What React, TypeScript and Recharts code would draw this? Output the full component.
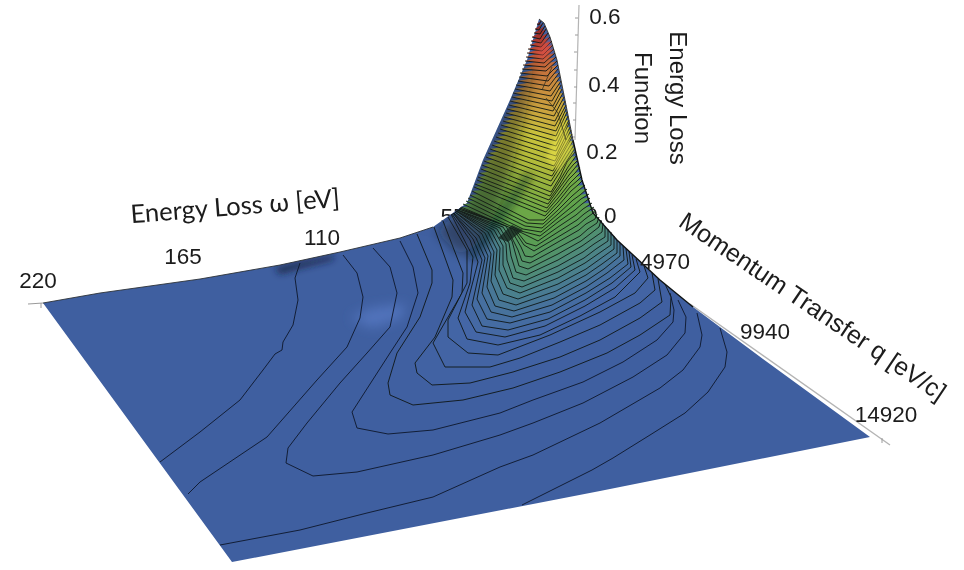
/**
 * Energy loss function surface, drawn as stacked contour regions
 * on a ScatterChart whose axes run in the projected plane of the picture.
 */
import { ScatterChart, Scatter, XAxis, YAxis } from "recharts";

type Pt = [number, number];

const WIDTH = 964;
const HEIGHT = 570;

// Axis tick labels
const ENERGY_TICKS = ["220", "165", "110"];
const ENERGY_TICK_POS: Pt[] = [[38, 280], [183, 256], [322, 237]];
const MOMENTUM_TICKS = ["4970", "9940", "14920"];
const MOMENTUM_TICK_POS: Pt[] = [[665, 261], [765, 331], [886, 414]];
const LOSS_TICKS = ["0.6", "0.4", "0.2"];
const LOSS_TICK_POS: Pt[] = [[605, 16], [604, 84], [602, 151]];
const LOSS_MINOR_TICKS: Pt[] = [[578, 18], [578, 35], [577, 52], [577, 70], [577, 87], [576, 103], [576, 120], [575, 137]];

// Outline of the surface, walked from the left corner along the back edge
const SURFACE_OUTLINE: Pt[] = [
  [43, 303], [100, 293], [200, 279], [280, 265], [340, 252], [400, 238], [433, 227], [467, 203],
  [483, 160], [510, 100], [527, 60], [539, 19], [544, 23], [550, 37], [557, 60], [565, 100],
  [573, 140], [582, 180], [593, 213], [617, 240], [660, 280], [693, 307], [763, 359], [870, 437],
  [600, 491], [232, 562],
];
const BACK_EDGE: Pt[] = [[43, 303], [100, 293], [200, 279], [280, 265], [340, 252], [400, 238], [433, 227]];
const PEAK_RIGHT_EDGE: Pt[] = [[539, 19], [544, 23], [550, 37], [557, 60], [565, 100], [573, 140]];
const FOOT_RIGHT_EDGE: Pt[] = [[573, 140], [582, 180], [593, 213], [617, 240], [660, 280], [693, 307]];

// Contours on the flat part of the floor
const FLOOR_CONTOURS: Pt[][] = [
  [[522, 505], [592, 470], [613, 458], [650, 435], [685, 413], [708, 392], [725, 367], [727, 352], [720, 328]],
  [[220, 545], [300, 530], [367, 513], [433, 497], [500, 467], [533, 455], [600, 423], [660, 388], [683, 370], [700, 347], [702, 335], [697, 313]],
  [[300, 263], [295, 278], [298, 300], [293, 325], [283, 342], [282, 350], [275, 354], [263, 370], [240, 400], [200, 432], [160, 462]],
  [[343, 255], [357, 273], [363, 297], [360, 318], [347, 347], [317, 380], [267, 437], [200, 482], [188, 494]],
  [[373, 248], [390, 267], [397, 293], [390, 327], [367, 353], [340, 383], [307, 423], [288, 448], [286, 463], [313, 476], [357, 472], [433, 455], [500, 435], [533, 423], [583, 403], [633, 377], [667, 355], [685, 333], [686, 317], [678, 300]],
  [[400, 241], [413, 267], [418, 293], [407, 327], [390, 353], [352, 412], [357, 428], [388, 434], [433, 430], [500, 413], [533, 400], [583, 382], [623, 362], [657, 340], [673, 322], [674, 310], [670, 293]],
];

// Contours of the foot of the peak, lowest first
const FOOT_CONTOURS: Pt[][] = [
  [[417, 234], [432, 270], [432, 283], [420, 317], [397, 353], [388, 383], [390, 395], [413, 405], [463, 400], [513, 388], [560, 372], [607, 353], [640, 335], [670, 315], [671, 297], [665, 284]],
  [[434, 227], [453, 280], [452, 297], [435, 337], [415, 363], [417, 373], [432, 385], [470, 383], [513, 372], [560, 357], [600, 340], [640, 318], [662, 302], [658, 279]],
  [[443, 221], [463, 273], [462, 293], [433, 343], [445, 367], [490, 367], [520, 358], [560, 342], [600, 325], [640, 303], [655, 290], [652, 273]],
  [[448, 217], [467, 250], [467, 283], [448, 320], [448, 337], [468, 353], [498, 355], [550, 335], [600, 312], [635, 293], [648, 278], [644, 266]],
  [[451, 214], [473, 257], [470, 283], [458, 318], [467, 339], [498, 345], [540, 335], [580, 316], [615, 297], [640, 272], [636, 259]],
  [[452, 214], [470, 240], [478, 262], [465, 312], [476, 332], [505, 337], [545, 326], [585, 306], [615, 288], [635, 270], [632, 255]],
  [[453, 213], [473, 239], [482, 260], [472, 305], [482, 326], [508, 330], [548, 319], [585, 300], [612, 283], [631, 267], [629, 252]],
  [[453, 213], [476, 238], [485, 258], [477, 299], [487, 319], [510, 323], [550, 312], [586, 293], [610, 278], [628, 264], [626, 249]],
  [[454, 213], [479, 236], [488, 256], [482, 293], [491, 312], [512, 317], [552, 305], [586, 287], [607, 273], [624, 260], [623, 246]],
  [[455, 212], [482, 234], [491, 254], [487, 287], [495, 306], [514, 311], [554, 298], [586, 281], [604, 269], [620, 256], [620, 243]],
  [[455, 212], [485, 233], [494, 252], [491, 281], [499, 300], [516, 305], [556, 291], [586, 275], [602, 264], [617, 253], [617, 240]],
  [[456, 211], [488, 232], [497, 250], [495, 275], [503, 294], [518, 299], [558, 284], [586, 269], [600, 259], [614, 249], [614, 236]],
  [[456, 211], [491, 231], [500, 248], [499, 270], [507, 288], [520, 293], [558, 278], [585, 263], [598, 254], [611, 245], [611, 232]],
  [[457, 211], [494, 230], [503, 246], [503, 265], [510, 283], [522, 287], [558, 272], [584, 258], [596, 249], [608, 241], [608, 229]],
  [[457, 210], [497, 229], [506, 244], [507, 260], [513, 278], [524, 281], [558, 266], [583, 252], [594, 244], [605, 237], [605, 226]],
  [[458, 210], [500, 228], [509, 243], [511, 256], [516, 272], [526, 275], [558, 260], [582, 246], [592, 239], [602, 232], [603, 223]],
  [[458, 210], [503, 227], [512, 241], [515, 252], [519, 266], [528, 269], [558, 254], [581, 241], [590, 234], [599, 227], [601, 220]],
  [[459, 209], [506, 226], [518, 250], [522, 261], [530, 263], [558, 248], [580, 236], [588, 229], [597, 223], [599, 217]],
  [[459, 209], [509, 226], [521, 247], [525, 256], [532, 257], [558, 242], [579, 230], [586, 224], [595, 219], [597, 214]],
  [[460, 208], [512, 227], [524, 245], [534, 251], [558, 237], [578, 225], [585, 219], [596, 211]],
  [[460, 208], [515, 229], [526, 243], [536, 246], [558, 232], [577, 220], [584, 214], [594, 207]],
];

// Contours of the peak itself, from the left edge over the lowest point to the right edge
const PEAK_CONTOURS: Pt[][] = [
  [[461, 207], [518, 231], [538, 241], [558, 227], [576, 215], [583, 209], [592, 203]],
  [[463, 204], [521, 231], [540, 236], [558, 222], [575, 210], [582, 204], [590, 198]],
  [[466, 201], [523, 229], [541, 232], [558, 218], [574, 205], [581, 199], [589, 194]],
  [[468, 198], [525, 226], [542, 228], [558, 214], [573, 200], [580, 195], [587, 189]],
  [[470, 195], [527, 223], [543, 224], [558, 210], [572, 196], [579, 190], [585, 185]],
  [[472, 191], [529, 220], [544, 220], [558, 206], [571, 191], [578, 185], [583, 180]],
  [[474, 187], [545, 216], [558, 202], [570, 187], [577, 181], [582, 176]],
  [[475, 184], [546, 212], [558, 198], [570, 183], [576, 177], [581, 172]],
  [[477, 180], [547, 208], [558, 194], [569, 179], [575, 173], [580, 167]],
  [[478, 177], [548, 204], [558, 190], [569, 175], [574, 169], [579, 163]],
  [[479, 173], [549, 200], [559, 186], [568, 171], [573, 165], [578, 160]],
  [[481, 169], [550, 196], [559, 182], [568, 167], [576, 156]],
  [[482, 165], [551, 192], [560, 177], [567, 162], [575, 152]],
  [[484, 161], [551, 186], [575, 148]],
  [[486, 157], [551, 181], [574, 145]],
  [[488, 153], [552, 176], [573, 141]],
  [[490, 149], [553, 171], [572, 137]],
  [[492, 145], [554, 166], [572, 134]],
  [[494, 141], [555, 161], [571, 130]],
  [[496, 137], [556, 156], [570, 127]],
  [[498, 133], [556, 151], [569, 123]],
  [[500, 129], [556, 146], [569, 120]],
  [[501, 125], [556, 141], [568, 116]],
  [[503, 121], [556, 136], [567, 112]],
  [[504, 117], [556, 131], [566, 109]],
  [[506, 113], [555, 126], [566, 105]],
  [[507, 109], [555, 121], [565, 101]],
  [[509, 105], [554, 116], [564, 97]],
  [[510, 101], [553, 111], [563, 93]],
  [[512, 97], [553, 106], [562, 89]],
  [[513, 93], [552, 101], [561, 85]],
  [[515, 89], [551, 96], [561, 81]],
  [[516, 85], [550, 91], [560, 77]],
  [[518, 81], [549, 86], [559, 73]],
  [[519, 77], [548, 81], [558, 69]],
  [[520, 73], [547, 76], [558, 65]],
  [[522, 69], [546, 71], [557, 61]],
  [[523, 65], [545, 67], [556, 57]],
  [[525, 61], [544, 63], [555, 53]],
  [[526, 57], [543, 59], [554, 49]],
  [[527, 53], [543, 55], [553, 45]],
  [[528, 49], [542, 51], [552, 41]],
  [[530, 45], [541, 47], [550, 37]],
  [[531, 41], [541, 43], [548, 33]],
  [[532, 37], [540, 39], [546, 29]],
  [[534, 33], [540, 34], [545, 26]],
  [[535, 29], [539, 30], [543, 23]],
  [[537, 24], [539, 25], [541, 21]],
];

// Shading on the surface
const LEFT_FACE_SHADE: Pt[] = [[436, 232], [467, 203], [483, 160], [510, 100], [527, 60], [533, 70], [525, 115], [515, 155], [505, 190], [485, 240], [460, 255]];
const RIDGE_SHADE: Pt[] = [[466, 256], [525, 172], [534, 176], [476, 262]];
const DARK_BOX: Pt[] = [[498, 238], [512, 225], [523, 230], [508, 242]];
const YELLOW_GLOW: Pt[] = [[546, 158], [563, 120], [574, 150], [558, 172]];
const RED_GLOW: Pt[] = [[536, 50], [548, 38], [552, 50], [542, 62]];
const FLOOR_GLOW: Pt[] = [[350, 318], [372, 308], [405, 304], [402, 318], [372, 328]];
const EDGE_SHADOW: Pt[] = [[275, 268], [300, 262], [335, 255], [332, 260], [300, 268], [280, 274]];
const CREASES: Pt[][] = [
  [[552, 67], [542, 90]],
  [[546, 98], [558, 113], [566, 140]],
];

// Colour of a contour region against the height of its lowest point on screen
const COLOR_STOPS: [number, number[]][] = [
  [420, [63, 95, 160]], [345, [68, 102, 166]], [320, [70, 112, 159]], [300, [74, 127, 142]],
  [280, [79, 140, 120]], [260, [84, 151, 95]], [235, [94, 162, 76]], [215, [112, 169, 69]],
  [195, [142, 176, 62]], [170, [180, 187, 58]], [145, [201, 196, 60]], [120, [203, 168, 62]],
  [95, [201, 143, 62]], [75, [198, 116, 60]], [55, [192, 78, 54]], [40, [168, 53, 48]], [25, [125, 36, 38]],
];

function contourColor(contour: Pt[]) {
  const low = Math.max(...contour.map((p) => p[1]));
  for (let i = 1; i < COLOR_STOPS.length; i++) {
    const [y0, c0] = COLOR_STOPS[i - 1];
    const [y1, c1] = COLOR_STOPS[i];
    if (low >= y1) {
      const t = Math.min(1, (y0 - low) / (y0 - y1));
      const mix = c0.map((v, k) => Math.round(v + (c1[k] - v) * Math.max(0, t)));
      return `rgb(${mix.join(",")})`;
    }
  }
  return "rgb(125,36,38)";
}

const toPoints = (pts: Pt[]) => pts.map(([x, y]) => ({ x, y }));
const NoMark = () => null;

interface PathStyle {
  fill?: string;
  fillOpacity?: number;
  stroke?: string;
  strokeWidth?: number;
  strokeOpacity?: number;
  filter?: string;
  clipPath?: string;
}

function path(key: string, pts: Pt[], style: PathStyle) {
  return (
    <Scatter
      key={key}
      data={toPoints(pts)}
      line={{ fill: "none", stroke: "none", ...style }}
      lineType="joint"
      shape={NoMark}
      legendType="none"
      isAnimationActive={false}
    />
  );
}

function label(key: string, text: string, at: Pt, size: number, family = "Liberation Sans", angle = 0) {
  const Shape = ({ cx, cy }: { cx?: number; cy?: number }) => (
    <text
      x={cx}
      y={cy}
      textAnchor="middle"
      dominantBaseline="central"
      fontFamily={family}
      fontSize={size}
      fill="#1c1c1c"
      transform={angle ? `rotate(${angle} ${cx} ${cy})` : undefined}
    >
      {text}
    </text>
  );
  return <Scatter key={key} data={toPoints([at])} shape={Shape} legendType="none" isAnimationActive={false} />;
}

function TickMark({ cx, cy }: { cx?: number; cy?: number }) {
  return <line x1={(cx ?? 0) - 3} y1={cy} x2={cx} y2={cy} stroke="#9a9a9a" strokeWidth={1} />;
}

const CLIP = "url(#surface-clip)";

export default function App() {
  return (
    <div style={{ position: "absolute", left: 0, top: 0, width: WIDTH, height: HEIGHT, background: "#fff", filter: "blur(0.45px)" }}>
      <ScatterChart width={WIDTH} height={HEIGHT} margin={{ top: 0, right: 0, bottom: 0, left: 0 }}>
        <defs>
          <clipPath id="surface-clip">
            <polygon points={SURFACE_OUTLINE.map((p) => p.join(",")).join(" ")} />
          </clipPath>
          <filter id="blur2" x="-50%" y="-50%" width="200%" height="200%">
            <feGaussianBlur stdDeviation="2" />
          </filter>
          <filter id="blur3" x="-50%" y="-50%" width="200%" height="200%">
            <feGaussianBlur stdDeviation="3.5" />
          </filter>
          <filter id="blur6" x="-50%" y="-50%" width="200%" height="200%">
            <feGaussianBlur stdDeviation="6" />
          </filter>
        </defs>
        <XAxis type="number" dataKey="x" domain={[0, WIDTH]} hide />
        <YAxis type="number" dataKey="y" domain={[0, HEIGHT]} reversed hide width={0} />

        {/* axes and the labels that the surface covers */}
        {path("loss-axis", [[579, 5], [575, 140]], { stroke: "#b4b4b4", strokeWidth: 1.2 })}
        <Scatter data={toPoints(LOSS_MINOR_TICKS)} shape={TickMark} legendType="none" isAnimationActive={false} />
        {path("momentum-axis", [[690, 304], [890, 445]], { stroke: "#b4b4b4", strokeWidth: 1.4 })}
        {path("energy-stub", [[28, 304], [43, 303]], { stroke: "#9a9a9a", strokeWidth: 1 })}
        {path("energy-tick", [[41, 303], [41, 308]], { stroke: "#9a9a9a", strokeWidth: 1 })}
        {path("momentum-tick", [[882, 438], [882, 443]], { stroke: "#9a9a9a", strokeWidth: 1 })}
        {label("tick-55", "55", [453, 216], 22.5)}
        {label("tick-00", "0.0", [601, 215], 22.5)}

        {/* surface */}
        {path("surface", SURFACE_OUTLINE, { fill: "#3f5fa0" })}
        {path("floor-glow", FLOOR_GLOW, { fill: "#5a7cc8", fillOpacity: 0.7, filter: "url(#blur6)" })}
        {path("edge-shadow", EDGE_SHADOW, { fill: "#141e3c", fillOpacity: 0.85, filter: "url(#blur3)", clipPath: CLIP })}
        {FLOOR_CONTOURS.map((c, i) =>
          path(`floor-${i}`, c, { stroke: "#101a30", strokeWidth: 1, strokeOpacity: 0.95 })
        )}
        {[...FOOT_CONTOURS, ...PEAK_CONTOURS].map((c, i) =>
          path(`level-${i}`, c, {
            fill: contourColor(c),
            stroke: "#0e1412",
            strokeWidth: 1,
            strokeOpacity: 0.88,
          })
        )}
        {path("left-face", LEFT_FACE_SHADE, { fill: "#10201a", fillOpacity: 0.42, filter: "url(#blur6)", clipPath: CLIP })}
        {path("ridge", RIDGE_SHADE, { fill: "#0e1c18", fillOpacity: 0.38, filter: "url(#blur3)", clipPath: CLIP })}
        {path("dark-box", DARK_BOX, { fill: "#14211c", fillOpacity: 0.75 })}
        {path("yellow-glow", YELLOW_GLOW, { fill: "#f2ea4a", fillOpacity: 0.5, filter: "url(#blur2)", clipPath: CLIP })}
        {path("red-glow", RED_GLOW, { fill: "#e8504a", fillOpacity: 0.5, filter: "url(#blur2)", clipPath: CLIP })}
        {CREASES.map((c, i) => path(`crease-${i}`, c, { stroke: "#2a2a1c", strokeWidth: 1, strokeOpacity: 0.7 }))}
        {path("back-edge", BACK_EDGE, { stroke: "#2c3238", strokeWidth: 0.9 })}
        {path("peak-right-edge", PEAK_RIGHT_EDGE, { stroke: "#2a2418", strokeWidth: 0.8 })}
        {path("foot-right-edge", FOOT_RIGHT_EDGE, { stroke: "#101414", strokeWidth: 1.4 })}

        {/* labels */}
        {ENERGY_TICKS.map((t, i) => label(`energy-${t}`, t, ENERGY_TICK_POS[i], 22.5))}
        {MOMENTUM_TICKS.map((t, i) => label(`momentum-${t}`, t, MOMENTUM_TICK_POS[i], 22.5))}
        {LOSS_TICKS.map((t, i) => label(`loss-${t}`, t, LOSS_TICK_POS[i], 22.5))}
        {label("energy-title", "Energy Loss ω [eV]", [235, 205], 25.6, "Lato", -4.5)}
        {label("momentum-title", "Momentum Transfer q [eV/c]", [813, 306], 25, "Liberation Sans", 34)}
        {label("loss-title-1", "Energy Loss", [678, 98], 24, "Liberation Sans", 90)}
        {label("loss-title-2", "Function", [643, 98], 24, "Liberation Sans", 90)}
      </ScatterChart>
    </div>
  );
}
